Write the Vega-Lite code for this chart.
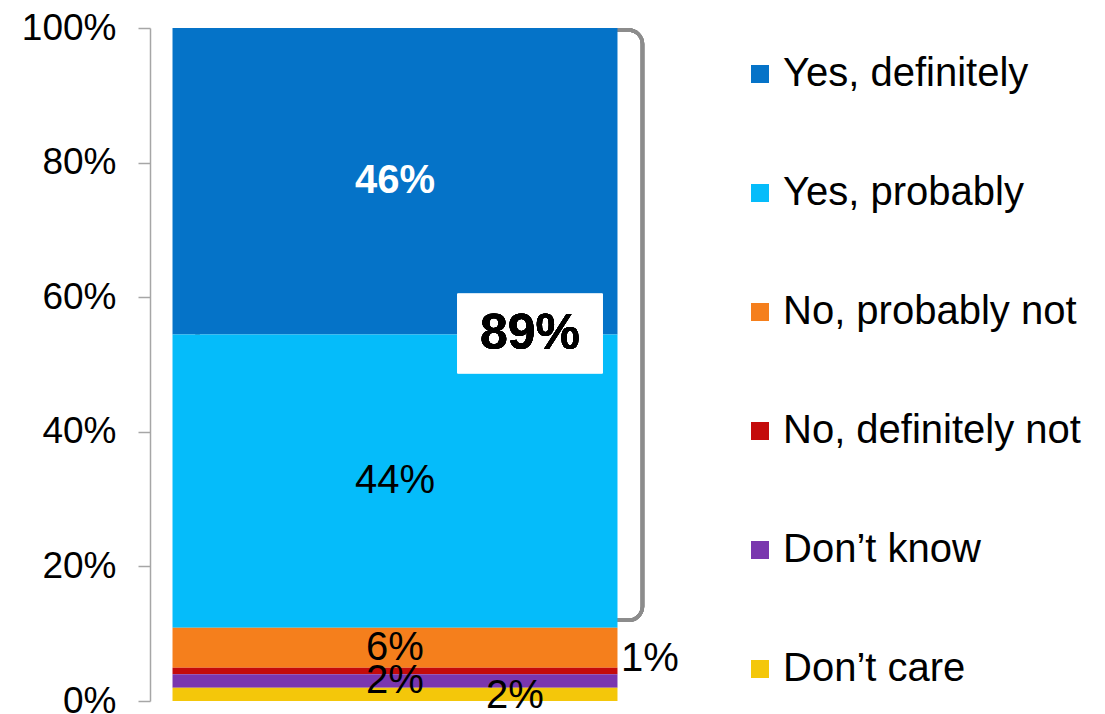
{
  "$schema": "https://vega.github.io/schema/vega-lite/v6.json",
  "width": 490,
  "height": 673,
  "autosize": {"type": "none"},
  "padding": {"left": 150, "top": 28, "right": 465, "bottom": 13},
  "background": "white",
  "config": {
    "view": {"stroke": null},
    "font": "Liberation Sans",
    "text": {"font": "Liberation Sans"}
  },
  "data": {
    "values": [
      {"group": "All", "response": "Yes, definitely", "pct": 46, "label": "46%", "order": 6},
      {"group": "All", "response": "Yes, probably", "pct": 44, "label": "44%", "order": 5},
      {"group": "All", "response": "No, probably not", "pct": 6, "label": "6%", "order": 4},
      {"group": "All", "response": "No, definitely not", "pct": 1, "label": "1%", "order": 3},
      {"group": "All", "response": "Don’t know", "pct": 2, "label": "2%", "order": 2},
      {"group": "All", "response": "Don’t care", "pct": 2, "label": "2%", "order": 1}
    ]
  },
  "transform": [
    {"stack": "pct", "groupby": ["group"], "offset": "normalize", "sort": [{"field": "order", "order": "ascending"}], "as": ["y0", "y1"]},
    {"calculate": "(datum.y0 + datum.y1) / 2", "as": "ymid"}
  ],
  "encoding": {
    "x": {"field": "group", "type": "nominal", "scale": {"paddingInner": 0, "paddingOuter": 0.0506}, "axis": null}
  },
  "layer": [
    {
      "mark": {"type": "rect", "fill": null, "stroke": "#8C8C8C", "strokeWidth": 3.5, "cornerRadius": 14, "xOffset": 25},
      "encoding": {
        "x": {"datum": "All"},
        "y": {"datum": 0.997},
        "y2": {"datum": 0.12}
      }
    },
    {
      "mark": {"type": "bar", "stroke": null},
      "encoding": {
        "y": {"field": "y0", "type": "quantitative", "scale": {"domain": [0, 1], "nice": false, "zero": true},
          "axis": {"values": [0, 0.2, 0.4, 0.6, 0.8, 1], "format": ".0%", "grid": false, "domainColor": "#A6A6A6", "domainWidth": 1.5, "tickColor": "#A6A6A6", "tickWidth": 1.5, "tickSize": 12, "labelFontSize": 37, "labelColor": "#000000", "labelFont": "Liberation Sans", "labelPadding": 22, "title": null}},
        "y2": {"field": "y1"},
        "color": {
          "field": "response", "type": "nominal",
          "scale": {
            "domain": ["Yes, definitely", "Yes, probably", "No, probably not", "No, definitely not", "Don’t know", "Don’t care"],
            "range": ["#0573C8", "#05BCFA", "#F57F1C", "#C40B0B", "#7A36AE", "#F4C70A"]
          },
          "legend": {
            "title": null, "orient": "none", "legendX": 590, "legendY": 26,
            "symbolType": "square", "symbolSize": 324, "symbolStrokeWidth": 0,
            "labelFontSize": 40, "labelFont": "Liberation Sans", "labelColor": "#000000",
            "labelOffset": 3, "rowPadding": 79, "labelLimit": 400
          }
        }
      }
    },
    {
      "transform": [{"filter": "datum.response == 'Yes, definitely'"}],
      "mark": {"type": "text", "fontSize": 40, "fontWeight": "bold", "color": "#FFFFFF", "baseline": "middle"},
      "encoding": {"y": {"field": "ymid", "type": "quantitative"}, "text": {"field": "label"}}
    },
    {
      "transform": [{"filter": "datum.response == 'Yes, probably' || datum.response == 'No, probably not' || datum.response == 'Don’t know'"}],
      "mark": {"type": "text", "fontSize": 40, "color": "#000000", "baseline": "middle"},
      "encoding": {"y": {"field": "ymid", "type": "quantitative"}, "text": {"field": "label"}}
    },
    {
      "transform": [{"filter": "datum.response == 'No, definitely not'"}],
      "mark": {"type": "text", "fontSize": 40, "color": "#000000", "baseline": "middle", "align": "left", "dx": 226, "dy": -12},
      "encoding": {"y": {"field": "ymid", "type": "quantitative"}, "text": {"field": "label"}}
    },
    {
      "transform": [{"filter": "datum.response == 'Don’t care'"}],
      "mark": {"type": "text", "fontSize": 40, "color": "#000000", "baseline": "middle", "dx": 120, "dy": 2},
      "encoding": {"y": {"field": "ymid", "type": "quantitative"}, "text": {"field": "label"}}
    },
    {
      "mark": {"type": "rect", "fill": "#FFFFFF", "width": 145, "xOffset": 135},
      "encoding": {
        "x": {"datum": "All"},
        "y": {"datum": 0.605},
        "y2": {"datum": 0.487}
      }
    },
    {
      "mark": {"type": "text", "fontSize": 50, "fontWeight": "bold", "color": "#000000", "baseline": "middle", "dx": 135},
      "encoding": {
        "x": {"datum": "All"},
        "y": {"datum": 0.546},
        "text": {"value": "89%"}
      }
    }
  ]
}
